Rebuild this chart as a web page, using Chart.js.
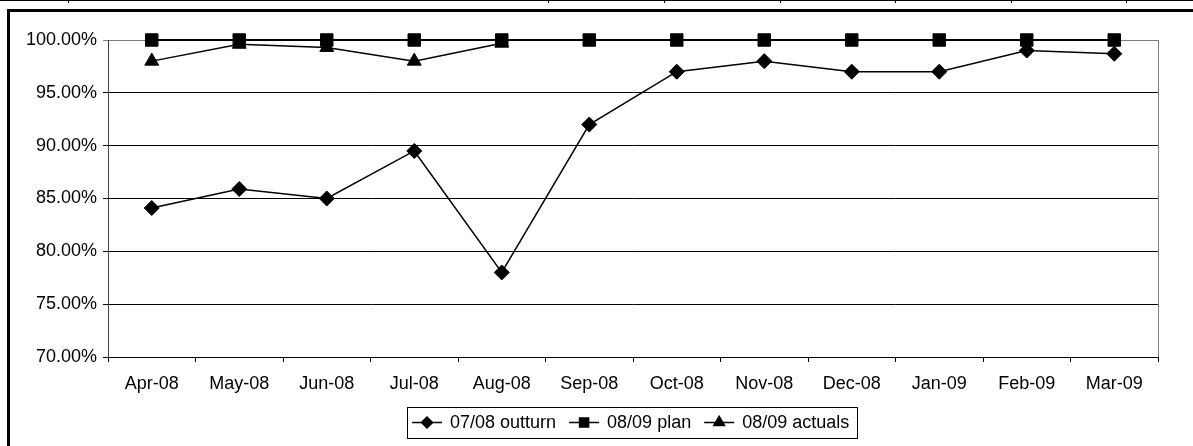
<!DOCTYPE html>
<html>
<head>
<meta charset="utf-8">
<script src="https://cdn.jsdelivr.net/npm/chart.js@4/dist/chart.umd.min.js"></script>
<style>
  html, body { margin: 0; padding: 0; background: #fff; }
  canvas { display: block; }
</style>
</head>
<body>
<canvas id="c" width="1193" height="446"></canvas>
<script>
// Monthly categories and series (percent)
const months = ['Apr-08', 'May-08', 'Jun-08', 'Jul-08', 'Aug-08', 'Sep-08',
                'Oct-08', 'Nov-08', 'Dec-08', 'Jan-09', 'Feb-09', 'Mar-09'];
const outturn0708 = [84.1, 85.9, 85.0, 89.5, 78.0, 92.0, 97.0, 98.0, 97.0, 97.0, 99.0, 98.7];
const plan0809    = [100, 100, 100, 100, 100, 100, 100, 100, 100, 100, 100, 100];
const actuals0809 = [98.0, 99.6, 99.3, 98.0, 99.7, null, null, null, null, null, null, null];
const seriesNames = ['07/08 outturn', '08/09 plan', '08/09 actuals'];
const yMin = 70, yMax = 100, yStep = 5;

const FONT = '"Liberation Sans", Arial, sans-serif';

// Sheet frame: thin top rule with cell dividers, heavy border on top and left
const framePlugin = {
  id: 'frame',
  beforeDraw(chart) {
    const ctx = chart.ctx;
    ctx.save();
    ctx.fillStyle = '#fff';
    ctx.fillRect(0, 0, chart.width, chart.height);
    ctx.fillStyle = '#000';
    ctx.fillRect(0, 0, chart.width, 1);
    [68, 548, 664, 780, 895, 1011, 1126].forEach(x => ctx.fillRect(x, 0, 1, 3));
    ctx.fillRect(7, 9, chart.width - 7, 3);
    ctx.fillRect(7, 9, 3, chart.height - 9);
    ctx.restore();
  }
};

// Grey plot-area border on the right edge
const plotBorderPlugin = {
  id: 'plotBorder',
  beforeDatasetsDraw(chart) {
    const { ctx, chartArea: a } = chart;
    ctx.save();
    ctx.strokeStyle = '#808080';
    ctx.lineWidth = 1;
    ctx.beginPath();
    ctx.moveTo(Math.round(a.right) + 0.5, a.top);
    ctx.lineTo(Math.round(a.right) + 0.5, a.bottom);
    ctx.stroke();
    ctx.restore();
  }
};

// Boxed legend with line-and-marker samples
const boxLegendPlugin = {
  id: 'boxLegend',
  afterDraw(chart) {
    const ctx = chart.ctx;
    ctx.save();
    ctx.font = '18px ' + FONT;
    const lineLen = 30, textGap = 8, itemGap = 13, padL = 5, padR = 8;
    const items = chart.data.datasets.map(ds => ({
      label: ds.label, style: ds.pointStyle, r: ds.legendRadius,
      w: ctx.measureText(ds.label).width
    }));
    let total = padL + padR + itemGap * (items.length - 1);
    items.forEach(it => { total += lineLen + textGap + it.w; });
    const cx = 632.5, top = 407, h = 31;
    const left = Math.round(cx - total / 2);
    const midY = top + h / 2;
    ctx.strokeStyle = '#000';
    ctx.lineWidth = 1;
    ctx.strokeRect(left + 0.5, top + 0.5, Math.round(total), h);
    let x = left + padL;
    ctx.fillStyle = '#000';
    ctx.textBaseline = 'middle';
    ctx.textAlign = 'left';
    items.forEach(it => {
      ctx.lineWidth = 1.5;
      ctx.beginPath();
      ctx.moveTo(x, midY);
      ctx.lineTo(x + lineLen, midY);
      ctx.stroke();
      Chart.helpers.drawPoint(ctx, {
        pointStyle: it.style, radius: it.r, rotation: 0, borderWidth: 1
      }, x + lineLen / 2, midY);
      ctx.fill();
      x += lineLen + textGap;
      ctx.fillText(it.label, x, midY + 1);
      x += it.w + itemGap;
    });
    ctx.restore();
  }
};

const common = {
  borderColor: '#000',
  backgroundColor: '#000',
  pointBackgroundColor: '#000',
  pointBorderColor: '#000',
  pointBorderWidth: 1,
  tension: 0,
  fill: false,
  clip: false
};

new Chart(document.getElementById('c'), {
  type: 'line',
  data: {
    labels: months,
    datasets: [
      Object.assign({}, common, {
        label: seriesNames[0], data: outturn0708, borderWidth: 1.5,
        pointStyle: 'rectRot', pointRadius: 7.5, legendRadius: 5.5
      }),
      Object.assign({}, common, {
        label: seriesNames[1], data: plan0809, borderWidth: 2,
        pointStyle: 'rect', pointRadius: 8.8, legendRadius: 6.4
      }),
      Object.assign({}, common, {
        label: seriesNames[2], data: actuals0809, borderWidth: 1.5,
        pointStyle: 'triangle', pointRadius: 8, legendRadius: 6.2
      })
    ]
  },
  options: {
    responsive: false,
    animation: false,
    devicePixelRatio: 1,
    layout: { padding: { left: 10, right: 35, top: 40, bottom: 0 } },
    plugins: {
      legend: { display: false },
      tooltip: { enabled: false }
    },
    scales: {
      x: {
        type: 'category',
        offset: true,
        afterFit(s) { s.height = 89; },
        grid: {
          offset: true,
          drawOnChartArea: false,
          drawTicks: true,
          tickLength: 5,
          color: '#000',
          lineWidth: 1
        },
        border: { color: '#000', width: 1 },
        ticks: {
          color: '#000',
          font: { family: FONT, size: 18 },
          padding: 11,
          maxRotation: 0,
          autoSkip: false
        }
      },
      y: {
        type: 'linear',
        min: yMin,
        max: yMax,
        afterFit(s) { s.width = 98; },
        grid: {
          color: ctx => (ctx.tick && ctx.tick.value === yMax) ? '#808080' : '#000',
          lineWidth: 1,
          drawTicks: true,
          tickLength: 5
        },
        border: { color: '#404040', width: 1 },
        ticks: {
          stepSize: yStep,
          color: '#000',
          font: { family: FONT, size: 18 },
          padding: 6,
          callback: v => v.toFixed(2) + '%'
        }
      }
    }
  },
  plugins: [framePlugin, plotBorderPlugin, boxLegendPlugin]
});
</script>
</body>
</html>
